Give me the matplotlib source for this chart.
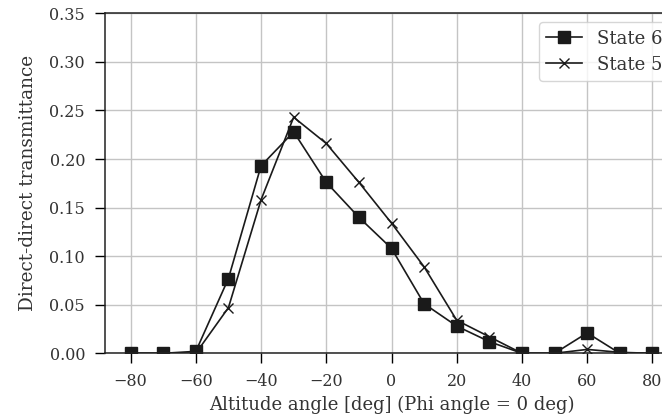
import numpy as np
import matplotlib.pyplot as plt

plt.rcParams['font.family'] = ['DejaVu Serif']

# altitude angles (deg), phi = 0
angles = [-80, -70, -60, -50, -40, -30, -20, -10, 0, 10, 20, 30, 40, 50, 60, 70, 80]
state6 = [0.0, 0.0, 0.002, 0.077, 0.193, 0.228, 0.176, 0.140, 0.108, 0.051, 0.028,
          0.012, 0.0, 0.0, 0.021, 0.0, 0.0]
state5 = [0.0, 0.0, 0.0, 0.047, 0.158, 0.243, 0.216, 0.176, 0.134, 0.089, 0.034,
          0.017, 0.0, 0.0, 0.004, 0.001, 0.0]

fig = plt.figure(figsize=(6.62, 4.17), dpi=100)
# axes run past the right edge of the canvas, like the reference crop
ax = fig.add_axes([104.5 / 662, (417 - 353.3) / 417, 574 / 662, 340 / 417])

ax.plot(angles, state6, 's-', color='#1a1a1a', lw=1.2, ms=8, label='State 6')
ax.plot(angles, state5, 'x-', color='#1a1a1a', lw=1.2, ms=7, mew=1.0, label='State 5')

ax.set_xlim(-88, 88)
ax.set_ylim(0, 0.35)
ax.set_xticks(np.arange(-80, 81, 20))
ax.set_yticks(np.arange(0, 0.351, 0.05))
ax.yaxis.set_major_formatter(plt.FormatStrFormatter('%.2f'))
ax.grid(True, color='#c4c4c4', lw=1.0)
ax.set_axisbelow(True)
ax.tick_params(direction='out', length=7, width=1.0, pad=7, labelsize=11.5,
               labelcolor='#333333')
for s in ax.spines.values():
    s.set_linewidth(1.1)
    s.set_color('#222222')

ax.set_xlabel('Altitude angle [deg] (Phi angle = 0 deg)', fontsize=13, color='#333333')
ax.set_ylabel('Direct-direct transmittance', fontsize=13.3, color='#333333', labelpad=9)
leg = ax.legend(loc='upper right', fontsize=13, fancybox=True, framealpha=0.8,
                labelspacing=0.45, borderaxespad=0.5)
for t in leg.get_texts():
    t.set_color('#333333')

fig.savefig('out.png', dpi=100)
